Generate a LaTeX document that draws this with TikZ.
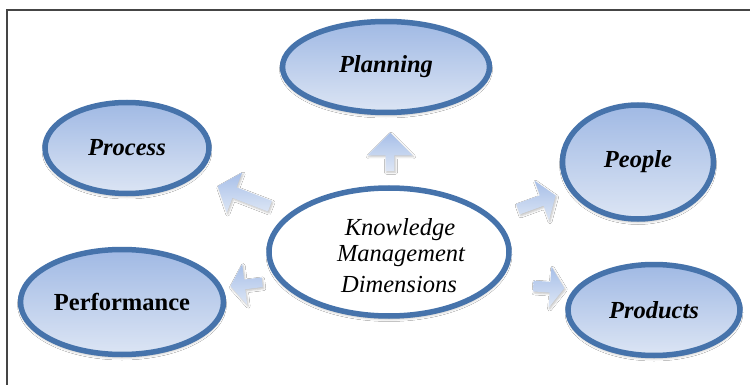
\documentclass[tikz,border=0pt]{standalone}
\usepackage{fontspec}
\setmainfont{Liberation Serif}
\usetikzlibrary{shapes.geometric,shapes.arrows,shadows.blur}

\definecolor{rimblue}{HTML}{4673AB}
\definecolor{filltop}{HTML}{A0B9E4}
\definecolor{fillbot}{HTML}{DCE5F4}
\definecolor{arrowtop}{HTML}{A7BFE8}
\definecolor{arrowbot}{HTML}{DDE6F5}
\definecolor{framegray}{HTML}{454545}

\tikzset{
  dimension/.style={ellipse, draw=rimblue, line width=5.5pt,
    top color=filltop, bottom color=fillbot, inner sep=0pt,
    blur shadow={shadow xshift=0pt, shadow yshift=-2.5pt,
      shadow blur radius=3pt, shadow opacity=35},
    font=\fontsize{24.5}{28}\selectfont\bfseries\itshape},
  core/.style={ellipse, draw=rimblue, line width=5.5pt, fill=white,
    inner sep=0pt,
    blur shadow={shadow xshift=0pt, shadow yshift=-2.5pt,
      shadow blur radius=3pt, shadow opacity=35}},
  coretext/.style={font=\fontsize{24.5}{28}\selectfont\itshape, inner sep=0pt},
  blockarrow/.style={single arrow, draw=none, inner sep=0pt,
    top color=arrowtop, bottom color=arrowbot,
    blur shadow={shadow xshift=1pt, shadow yshift=-1.5pt,
      shadow blur radius=2pt, shadow opacity=25}},
}

\begin{document}
\begin{tikzpicture}[x=1pt, y=-1pt]
  \useasboundingbox (0,0) rectangle (750,385);
  \fill[white] (0,0) rectangle (750,385);

  % page frame (open at right and bottom)
  \draw[framegray, line width=2pt] (7,385) -- (7,10) -- (750,10);

  % outer dimensions
  \node[dimension, minimum width=207pt, minimum height=91pt] (planning) at (386,67) {Planning};
  \node[dimension, minimum width=164pt, minimum height=91pt] (process) at (127,148) {Process};
  \node[dimension, minimum width=151pt, minimum height=114pt] (people) at (638,162) {People};
  \node[dimension, minimum width=203pt, minimum height=105pt, font=\fontsize{24.5}{28}\selectfont\bfseries] (performance) at (122,302) {Performance};
  \node[dimension, minimum width=172pt, minimum height=91pt] (products) at (654,310) {Products};

  % central ellipse and its three lines of text
  \node[core, minimum width=240pt, minimum height=128pt] (km) at (389,252) {};
  \node[coretext, anchor=base] (kmA) at (400,235) {Knowledge};
  \node[coretext, anchor=base] (kmB) at (401,261) {Management};
  \node[coretext, anchor=base] (kmC) at (399,292) {Dimensions};

  % block arrows from the centre outwards
  \node[blockarrow, minimum height=38pt, minimum width=45pt,
        single arrow head extend=10pt, single arrow tip angle=90,
        rotate=90] (toPlanning) at (390,154) {\phantom{x}};
  \node[blockarrow, minimum height=56pt, minimum width=43pt,
        single arrow head extend=7pt, single arrow tip angle=100,
        rotate=159] (toProcess) at (246,197) {\phantom{x}};
  \node[blockarrow, minimum height=32pt, minimum width=41pt,
        single arrow head extend=8pt, single arrow tip angle=110,
        rotate=187] (toPerformance) at (248,284) {\phantom{x}};
  \node[blockarrow, minimum height=40pt, minimum width=42pt,
        single arrow head extend=7pt, single arrow tip angle=110,
        rotate=20] (toPeople) at (535,203) {\phantom{x}};
  \node[blockarrow, minimum height=31pt, minimum width=41pt,
        single arrow head extend=7pt, single arrow tip angle=110,
        rotate=-4] (toProducts) at (547,287) {\phantom{x}};
\end{tikzpicture}
\end{document}
